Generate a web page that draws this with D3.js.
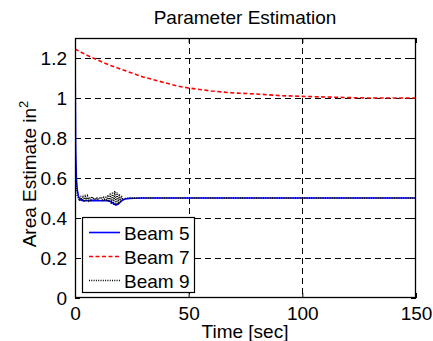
<!DOCTYPE html>
<html><head><meta charset="utf-8">
<script src="https://cdn.jsdelivr.net/npm/d3@7"></script>
<style>html,body{margin:0;padding:0;background:#fff;}svg{display:block;font-family:"Liberation Sans",Arial,sans-serif;}</style>
</head><body><svg id="c" width="433" height="341"></svg>
<script>
const xTicks = [0, 50, 100, 150];
const yTicks = [0, 0.2, 0.4, 0.6, 0.8, 1, 1.2];
const seriesNames = ["Beam 5", "Beam 7", "Beam 9"];

const beam5T = [0, 0.3, 0.6, 1, 1.5, 2, 3, 4, 6, 8, 10, 12, 14, 15, 16, 17, 18, 19, 20, 21, 22, 24, 26, 30, 40, 50, 75, 100, 125, 150];
const beam5V = [1.25, 0.75, 0.6, 0.54, 0.51, 0.495, 0.488, 0.486, 0.487, 0.488, 0.487, 0.486, 0.487, 0.485, 0.48, 0.472, 0.465, 0.47, 0.48, 0.49, 0.495, 0.498, 0.499, 0.5, 0.5, 0.5, 0.5, 0.5, 0.5, 0.5];

const beam7T = [0, 5, 10, 15, 20, 25, 30, 35, 40, 45, 50, 60, 70, 80, 90, 100, 110, 120, 130, 150];
const beam7V = [1.245, 1.215, 1.19, 1.165, 1.145, 1.125, 1.105, 1.09, 1.075, 1.06, 1.05, 1.035, 1.025, 1.02, 1.012, 1.008, 1.005, 1.002, 1.0, 1.0];

const beam9T = [0, 0.3, 0.6, 1, 1.5, 2, 2.5, 3, 3.5, 4, 4.5, 5, 5.5, 6, 6.5, 7, 7.5, 8, 8.5, 9, 9.5, 10, 10.5, 11, 11.5, 12, 12.5, 13, 13.5, 14, 14.5, 15, 15.5, 16, 16.5, 17, 17.5, 18, 18.5, 19, 19.5, 20, 20.5, 21, 22, 24, 30, 50, 150];
const beam9V = [0.78, 0.62, 0.55, 0.51, 0.5, 0.485, 0.51, 0.49, 0.505, 0.48, 0.508, 0.492, 0.51, 0.488, 0.505, 0.49, 0.507, 0.494, 0.5, 0.49, 0.504, 0.493, 0.502, 0.495, 0.505, 0.49, 0.503, 0.494, 0.51, 0.485, 0.515, 0.48, 0.525, 0.47, 0.53, 0.465, 0.535, 0.465, 0.53, 0.47, 0.52, 0.48, 0.51, 0.49, 0.498, 0.5, 0.5, 0.5, 0.5];

const L = 75, R = 416, T = 38, B = 298;
const FS = 19;
const svg = d3.select("#c");
const x = d3.scaleLinear().domain([0, 150]).range([L, R]);
const y = d3.scaleLinear().domain([0, 1.3]).range([B, T]);

// grid
const g = svg.append("g");
g.selectAll(".gy").data(yTicks.filter(v => v > 0)).enter().append("line")
  .attr("x1", L).attr("x2", R).attr("y1", d => Math.round(y(d)) + 0.5).attr("y2", d => Math.round(y(d)) + 0.5)
  .attr("stroke", "#000").attr("stroke-width", 1).attr("stroke-dasharray", "6,4");
g.selectAll(".gx").data(xTicks.filter(v => v > 0 && v < 150)).enter().append("line")
  .attr("y1", T).attr("y2", B).attr("x1", d => Math.round(x(d)) + 0.5).attr("x2", d => Math.round(x(d)) + 0.5)
  .attr("stroke", "#000").attr("stroke-width", 1).attr("stroke-dasharray", "6,4");

// axes (inward ticks)
const axL = d3.axisLeft(y).tickValues(yTicks).tickSizeInner(-5).tickSizeOuter(0).tickPadding(8).tickFormat(d3.format("~g"));
const axB = d3.axisBottom(x).tickValues(xTicks).tickSizeInner(-5).tickSizeOuter(0).tickPadding(9);
const axR = d3.axisRight(y).tickValues(yTicks).tickSizeInner(-5).tickSizeOuter(0).tickFormat("");
const axT = d3.axisTop(x).tickValues(xTicks).tickSizeInner(-5).tickSizeOuter(0).tickFormat("");
[[axL, `translate(${L},0)`], [axB, `translate(0,${B})`], [axR, `translate(${R},0)`], [axT, `translate(0,${T})`]].forEach(([ax, tr]) => {
  const a = svg.append("g").attr("transform", tr).call(ax);
  a.select(".domain").remove();
  a.selectAll("text").attr("font-size", FS).attr("fill", "#000").attr("font-family", "Liberation Sans, Arial, sans-serif");
  a.selectAll("line").attr("stroke", "#000");
});

// lines
const line = d3.line().x(d => x(d[0])).y(d => y(d[1]));
svg.append("clipPath").attr("id", "cp").append("rect").attr("x", L).attr("y", T).attr("width", R - L).attr("height", B - T);
const lg = svg.append("g").attr("clip-path", "url(#cp)");
lg.append("path").datum(beam5T.map((t, i) => [t, beam5V[i]])).attr("d", line)
  .attr("fill", "none").attr("stroke", "#0000ff").attr("stroke-width", 1.6);
lg.append("path").datum(beam7T.map((t, i) => [t, beam7V[i]])).attr("d", line)
  .attr("fill", "none").attr("stroke", "#ff0000").attr("stroke-width", 1.6).attr("stroke-dasharray", "4,2.5");
lg.append("path").datum(beam9T.map((t, i) => [t, beam9V[i]])).attr("d", line)
  .attr("fill", "none").attr("stroke", "#000").attr("stroke-width", 1.4).attr("stroke-dasharray", "1,1.3");

// box
svg.append("rect").attr("x", L + 0.5).attr("y", T + 0.5).attr("width", R - L - 1).attr("height", B - T - 1)
  .attr("fill", "none").attr("stroke", "#000").attr("stroke-width", 1.3);

// legend
const leg = svg.append("g");
leg.append("rect").attr("x", 82.5).attr("y", 217.5).attr("width", 112).attr("height", 75)
  .attr("fill", "#fff").attr("stroke", "#000").attr("stroke-width", 1.2);
const styles = [
  {c: "#0000ff", w: 1.6, d: null},
  {c: "#ff0000", w: 1.6, d: "4,2.5"},
  {c: "#000", w: 1.3, d: "1,1.3"}
];
seriesNames.forEach((n, i) => {
  const yy = 232.5 + i * 24;
  leg.append("line").attr("x1", 89).attr("x2", 120).attr("y1", yy).attr("y2", yy)
    .attr("stroke", styles[i].c).attr("stroke-width", styles[i].w).attr("stroke-dasharray", styles[i].d);
  leg.append("text").attr("x", 124).attr("y", yy + 7).attr("font-size", FS).text(n);
});

// title & labels
svg.append("text").attr("x", 245).attr("y", 24).attr("text-anchor", "middle").attr("font-size", FS).text("Parameter Estimation");
svg.append("text").attr("x", 245).attr("y", 338).attr("text-anchor", "middle").attr("font-size", FS).text("Time [sec]");
const yl = svg.append("text").attr("transform", "translate(36,174) rotate(-90)").attr("text-anchor", "middle").attr("font-size", FS);
yl.append("tspan").text("Area Estimate in");
yl.append("tspan").attr("font-size", 13).attr("dy", -8).text("2");
</script></body></html>
